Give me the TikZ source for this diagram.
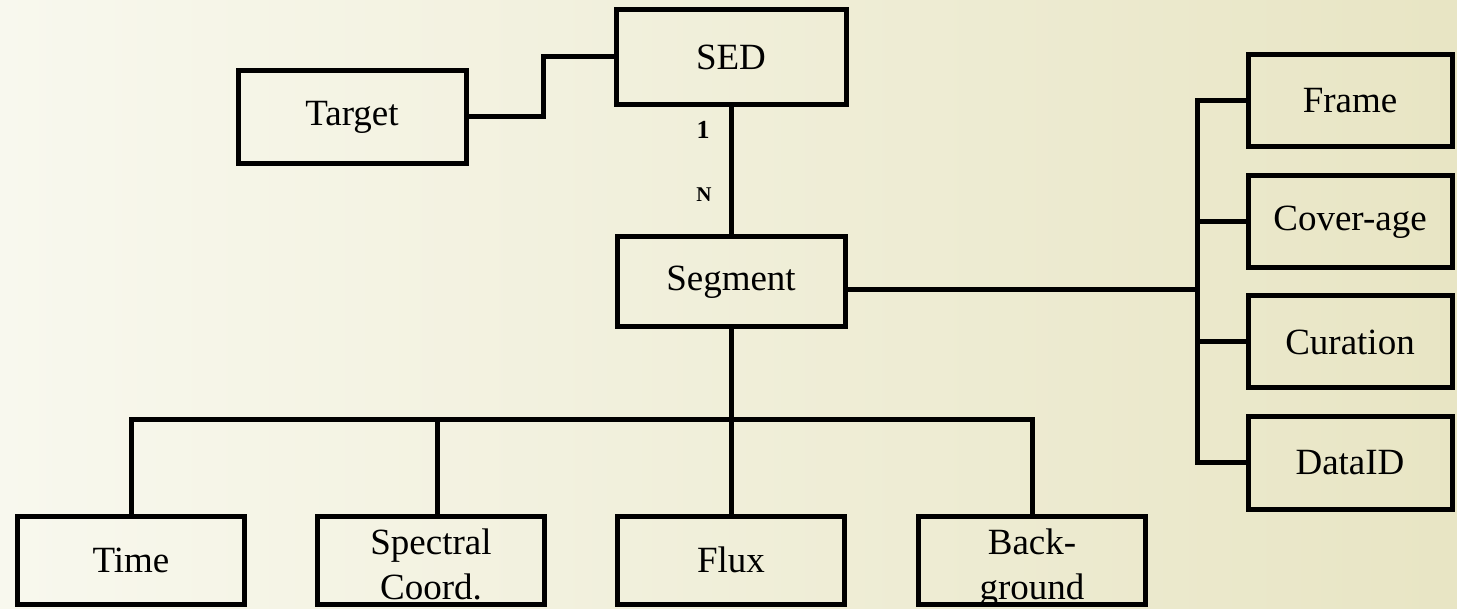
\documentclass[tikz,border=0pt]{standalone}
\usepackage{fontspec}
\setmainfont{Liberation Serif}
\usepackage{tikz}
\usetikzlibrary{calc,positioning}
\definecolor{bgleft}{RGB}{248,248,238}
\definecolor{bgright}{RGB}{232,229,196}

\begin{document}
\begin{tikzpicture}[x=1pt,y=-1pt,
	box/.style={draw,line width=5pt,minimum width=228pt,minimum height=92pt,inner sep=0pt,align=center,font=\fontsize{37}{45}\selectfont},
	sidebox/.style={box,minimum width=204pt},
	lowbox/.style={box,minimum width=227pt,minimum height=88pt},
	twoline/.style={text height=83pt,text depth=5pt},
	wire/.style={draw,line width=5pt},
	card/.style={font=\bfseries\fontsize{#1}{#1}\selectfont,inner sep=0pt}]
	\useasboundingbox (0,0) rectangle (1457,609);
	\shade[left color=bgleft,right color=bgright] (0,0) rectangle (1457,609);
	% top part
	\node[box,minimum height=93pt] (target) at (352,117) {Target};
	\node[box,minimum width=230pt,minimum height=95pt] (sed) at (731,57) {SED};
	\node[box,minimum height=90pt] (seg) at (731,282) {Segment};
	\node[card=26] (one) at (703,130) {1};
	\node[card=21] (many) at (704,195) {N};
	% bottom row
	\node[lowbox] (time) at (131,560) {Time};
	\node[lowbox,twoline] (spec) at (431,560) {Spectral\\Coord.};
	\node[lowbox] (flux) at (731,560) {Flux};
	\node[lowbox,twoline] (bkg) at (1032,560) {Back-\\ground};
	% right column
	\node[sidebox] (frame) at (1350,101) {Frame};
	\node[sidebox] (cover) at (1350,222) {Cover-age};
	\node[sidebox] (cur) at (1350,342) {Curation};
	\node[sidebox] (dataid) at (1350,463) {DataID};
	\coordinate (hub) at (731,420);
	\coordinate (rhub) at (1197,290);
	% connectors
	\draw[wire] (target.east) -- ++(75,0) |- (sed.west);
	\draw[wire] (sed.south) -- (seg.north);
	\draw[wire] (seg.south) -- (flux.north);
	\draw[wire] (time.north) |- (bkg.north |- hub) -- (bkg.north);
	\draw[wire] ([xshift=6pt]spec.north) -- ([xshift=6pt]spec.north |- hub);
	\draw[wire] ([yshift=-8pt]seg.east) -- (rhub);
	\draw[wire] (frame.west) -| (rhub |- dataid.west) -- (dataid.west);
	\draw[wire] (cover.west) -- (cover.west -| rhub);
	\draw[wire] (cur.west) -- (cur.west -| rhub);
\end{tikzpicture}
\end{document}
